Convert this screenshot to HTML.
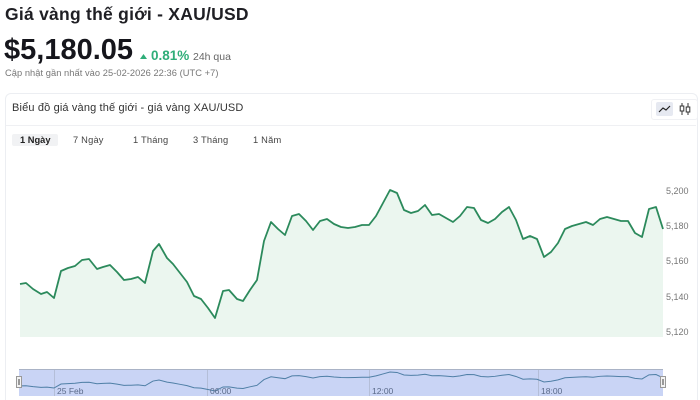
<!DOCTYPE html>
<html><head><meta charset="utf-8">
<style>
html,body{margin:0;padding:0;background:#fff;width:700px;height:400px;overflow:hidden;font-family:"Liberation Sans","Noto Sans CJK SC",sans-serif;}
.a{position:absolute;white-space:nowrap;}
</style></head><body>
<div class="a" style="left:5px;top:4px;font-size:17.5px;font-weight:bold;color:#1f1f24;letter-spacing:0.25px;">Giá vàng thế giới - XAU/USD</div>
<div class="a" style="left:4px;top:34px;font-size:29px;font-weight:bold;color:#16161c;letter-spacing:0px;">$5,180.05</div>
<svg class="a" style="left:140px;top:54px" width="7" height="5"><polygon points="0,5 3.5,0 7,5" fill="#2fae79"/></svg>
<div class="a" style="left:151px;top:48px;font-size:13.5px;font-weight:bold;color:#2fae79;">0.81%</div>
<div class="a" style="left:193px;top:51px;font-size:10.5px;color:#666;">24h qua</div>
<div class="a" style="left:5px;top:68px;font-size:9.3px;color:#777;letter-spacing:0.05px;">Cập nhật gần nhất vào 25-02-2026 22:36 (UTC +7)</div>

<div class="a" style="left:5px;top:93px;width:691px;height:306px;border:1px solid #eceef2;border-bottom:none;border-radius:6px 6px 0 0;"></div>
<div class="a" style="left:6px;top:125px;width:690px;height:1px;background:#eff0f3;"></div>
<div class="a" style="left:12px;top:101.5px;font-size:11px;color:#333;letter-spacing:0.15px;">Biểu đồ giá vàng thế giới - giá vàng XAU/USD</div>

<div class="a" style="left:651px;top:99px;width:45px;height:19px;border:1px solid #f0f1f4;border-radius:3px;"></div>
<div class="a" style="left:656px;top:102px;width:17px;height:14px;background:#e6e9f1;border-radius:2px;"></div>
<svg class="a" style="left:656px;top:102px" width="17" height="14"><polyline points="3,10 7,6 10,8 14,4" fill="none" stroke="#222" stroke-width="1.2"/></svg>
<svg class="a" style="left:678px;top:101px" width="14" height="16">
<line x1="4" y1="2" x2="4" y2="14" stroke="#333" stroke-width="1"/><rect x="2.2" y="5" width="3.6" height="5" fill="#fff" stroke="#333" stroke-width="1"/>
<line x1="10" y1="2" x2="10" y2="14" stroke="#333" stroke-width="1"/><rect x="8.2" y="6" width="3.6" height="5" fill="#fff" stroke="#333" stroke-width="1"/>
</svg>

<div class="a" style="left:12px;top:134px;width:46px;height:12px;background:#f1f2f4;border-radius:2px;"></div>
<div class="a" style="left:20px;top:135px;font-size:9.3px;font-weight:bold;color:#222;">1 Ngày</div>
<div class="a" style="left:73px;top:135px;font-size:9.3px;color:#444;letter-spacing:0.2px;">7 Ngày</div>
<div class="a" style="left:133px;top:135px;font-size:9.3px;color:#444;letter-spacing:0.2px;">1 Tháng</div>
<div class="a" style="left:193px;top:135px;font-size:9.3px;color:#444;letter-spacing:0.2px;">3 Tháng</div>
<div class="a" style="left:253px;top:135px;font-size:9.3px;color:#444;letter-spacing:0.2px;">1 Năm</div>

<svg class="a" style="left:0;top:0" width="700" height="400">
<polygon fill="#ebf6ef" points="20,284 26,283 33,289 41,294 47,292 54,298 61,271 68,268 75,266 82,260 89,259 97,269 103,267 110,265 117,272 124,280 131,279 138,277 145,283 153,251 159,244 167,258 173,264 180,273 187,282 194,296 201,299 208,308 215,318 223,291 229,290 237,299 243,301 250,290 257,280 264,241 271,222 278,229 285,235 292,216 299,214 306,221 313,230 320,221 327,219 334,224 341,227 348,228 355,227 362,225 369,225 376,216 383,203 390,190 397,193 404,210 411,213 418,211 425,205 432,215 439,214 446,218 453,222 460,216 467,207 474,208 481,220 488,223 495,219 502,212 509,207 516,220 523,239 530,236 537,239 544,257 551,252 558,243 565,229 572,226 579,224 586,222 593,225 600,219 607,217 614,219 621,221 628,221 635,233 642,237 649,209 656,207 663,229 663,337 20,337"/>
<polyline fill="none" stroke="#2c8a5c" stroke-width="1.8" stroke-linejoin="round" points="20,284 26,283 33,289 41,294 47,292 54,298 61,271 68,268 75,266 82,260 89,259 97,269 103,267 110,265 117,272 124,280 131,279 138,277 145,283 153,251 159,244 167,258 173,264 180,273 187,282 194,296 201,299 208,308 215,318 223,291 229,290 237,299 243,301 250,290 257,280 264,241 271,222 278,229 285,235 292,216 299,214 306,221 313,230 320,221 327,219 334,224 341,227 348,228 355,227 362,225 369,225 376,216 383,203 390,190 397,193 404,210 411,213 418,211 425,205 432,215 439,214 446,218 453,222 460,216 467,207 474,208 481,220 488,223 495,219 502,212 509,207 516,220 523,239 530,236 537,239 544,257 551,252 558,243 565,229 572,226 579,224 586,222 593,225 600,219 607,217 614,219 621,221 628,221 635,233 642,237 649,209 656,207 663,229"/>
<g font-family="Liberation Sans, sans-serif" font-size="9" fill="#777">
<text x="666" y="194">5,200</text>
<text x="666" y="229">5,180</text>
<text x="666" y="264">5,160</text>
<text x="666" y="300">5,140</text>
<text x="666" y="335">5,120</text>
</g>

<rect x="19" y="369" width="644" height="27" fill="#c9d4f5"/>
<line x1="19" y1="369.5" x2="663" y2="369.5" stroke="#aab3c6" stroke-width="1"/>
<g stroke="#b4bed8" stroke-width="1">
<line x1="54.5" y1="370" x2="54.5" y2="396"/>
<line x1="207.5" y1="370" x2="207.5" y2="396"/>
<line x1="369.5" y1="370" x2="369.5" y2="396"/>
<line x1="538.5" y1="370" x2="538.5" y2="396"/>
</g>
<g transform="translate(0,343.9) scale(1,0.148)">
<polyline fill="none" stroke="#4f7fa6" stroke-width="1" vector-effect="non-scaling-stroke" points="20,284 26,283 33,289 41,294 47,292 54,298 61,271 68,268 75,266 82,260 89,259 97,269 103,267 110,265 117,272 124,280 131,279 138,277 145,283 153,251 159,244 167,258 173,264 180,273 187,282 194,296 201,299 208,308 215,318 223,291 229,290 237,299 243,301 250,290 257,280 264,241 271,222 278,229 285,235 292,216 299,214 306,221 313,230 320,221 327,219 334,224 341,227 348,228 355,227 362,225 369,225 376,216 383,203 390,190 397,193 404,210 411,213 418,211 425,205 432,215 439,214 446,218 453,222 460,216 467,207 474,208 481,220 488,223 495,219 502,212 509,207 516,220 523,239 530,236 537,239 544,257 551,252 558,243 565,229 572,226 579,224 586,222 593,225 600,219 607,217 614,219 621,221 628,221 635,233 642,237 649,209 656,207 663,229"/>
</g>
<g font-family="Liberation Sans, sans-serif" font-size="8.5" fill="#5a6a8a">
<text x="57" y="394">25 Feb</text>
<text x="210" y="394">06:00</text>
<text x="372" y="394">12:00</text>
<text x="541" y="394">18:00</text>
</g>
<rect x="16.5" y="376.5" width="5" height="11" fill="#f3f3f3" stroke="#999" stroke-width="1"/>
<line x1="18.5" y1="379" x2="18.5" y2="385" stroke="#999"/><line x1="19.5" y1="379" x2="19.5" y2="385" stroke="#999"/>
<rect x="660.5" y="376.5" width="5" height="11" fill="#f3f3f3" stroke="#999" stroke-width="1"/>
<line x1="662.5" y1="379" x2="662.5" y2="385" stroke="#999"/><line x1="663.5" y1="379" x2="663.5" y2="385" stroke="#999"/>
</svg>
</body></html>
